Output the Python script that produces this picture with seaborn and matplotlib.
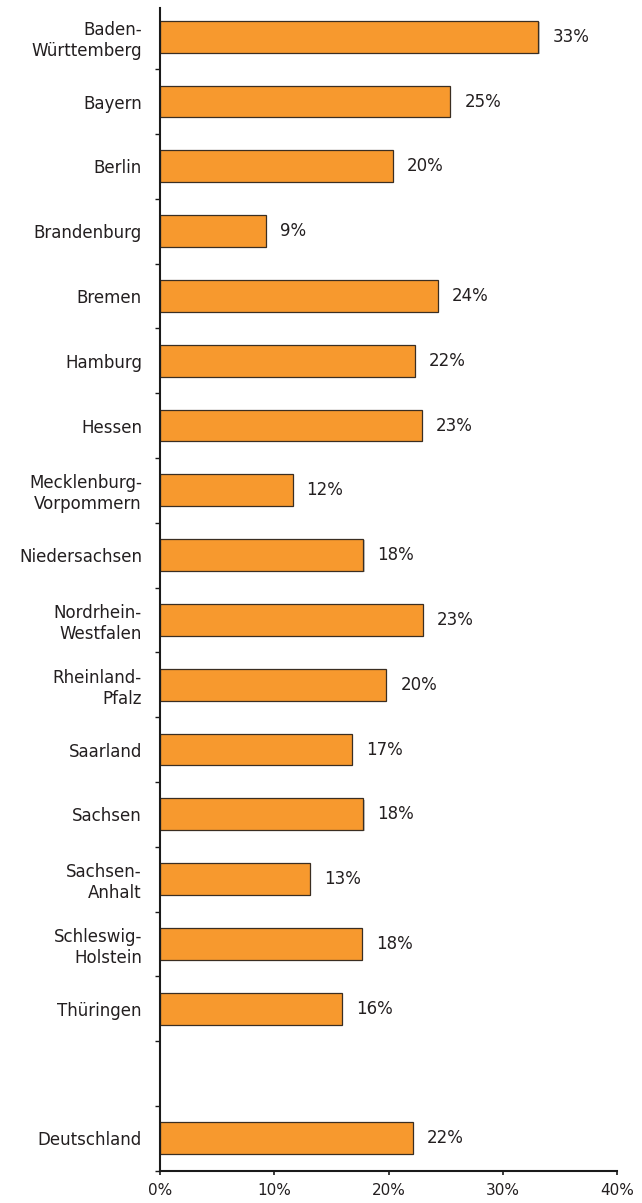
import numpy as np
import pandas as pd
import matplotlib
matplotlib.use("Agg")
import matplotlib.pyplot as plt
import matplotlib.patheffects as pe
import seaborn as sns

# Share per federal state (percent)
states = [
    "Baden-\nWürttemberg", "Bayern", "Berlin", "Brandenburg", "Bremen",
    "Hamburg", "Hessen", "Mecklenburg-\nVorpommern", "Niedersachsen",
    "Nordrhein-\nWestfalen", "Rheinland-\nPfalz", "Saarland", "Sachsen",
    "Sachsen-\nAnhalt", "Schleswig-\nHolstein", "Thüringen",
]
state_values = [33.1, 25.4, 20.4, 9.3, 24.3, 22.3, 22.9, 11.6, 17.8,
                23.0, 19.8, 16.8, 17.8, 13.1, 17.7, 15.9]

total_name = "Deutschland"
total_value = 22.1

x_ticks = [0, 10, 20, 30, 40]

BAR_COLOR = "#F7992E"
EDGE_COLOR = "#3a2e22"
TEXT_COLOR = "#231F20"

sns.set_style("ticks")
plt.rcParams["font.family"] = ["DejaVu Sans"]
plt.rcParams["text.color"] = TEXT_COLOR

df = pd.DataFrame({
    "land": states + [total_name],
    "value": state_values + [total_value],
})
# a blank slot separates the national figure from the states
order = states + [" ", total_name]

W, H = 642, 1203
fig = plt.figure(figsize=(W / 100, H / 100), dpi=100)
x0, x1 = 160, 617.3
y_top, y_bot = 4.3, 1170.7
ax = fig.add_axes([x0 / W, 1 - y_bot / H, (x1 - x0) / W, (y_bot - y_top) / H])

sns.barplot(data=df, x="value", y="land", order=order, orient="h",
            color=BAR_COLOR, saturation=1, edgecolor=EDGE_COLOR,
            linewidth=0.9, width=0.49, errorbar=None, ax=ax)

for bar in ax.patches:
    bar.set_path_effects([
        pe.SimplePatchShadow(offset=(0.8, -0.8), shadow_rgbFace="0.55", alpha=0.5),
        pe.Normal(),
    ])

for cont in ax.containers:
    ax.bar_label(cont, fmt=lambda v: f"{v:.0f}%", padding=10,
                 fontsize=12, color=TEXT_COLOR)

ax.set_xlim(0, 40)
ax.set_ylim(len(order) - 0.5, -0.5)
ax.set_xticks(x_ticks)
ax.set_xticklabels([f"{t}%" for t in x_ticks])
ax.set_xlabel("")
ax.set_ylabel("")

# category labels without ticks; small ticks on the slot boundaries
ax.tick_params(axis="y", which="major", length=0, pad=13,
               labelsize=12, labelcolor=TEXT_COLOR)
ax.set_yticks(np.arange(0.5, len(order), 1), minor=True)
ax.tick_params(axis="y", which="minor", length=3.6, width=1.0,
               color="#1a1a1a", direction="out")
ax.tick_params(axis="x", which="major", length=3, width=1.2,
               color="#1a1a1a", pad=6, labelsize=11, labelcolor=TEXT_COLOR)

for lbl in ax.get_yticklabels():
    lbl.set_multialignment("right")
    lbl.set_linespacing(1.22)

sns.despine(ax=ax, top=True, right=True)
for side in ("left", "bottom"):
    ax.spines[side].set_linewidth(1.5)
    ax.spines[side].set_color("#1a1a1a")
ax.spines["left"].set_bounds(len(order) - 0.5, -0.45)

fig.savefig("out.png", dpi=100)
